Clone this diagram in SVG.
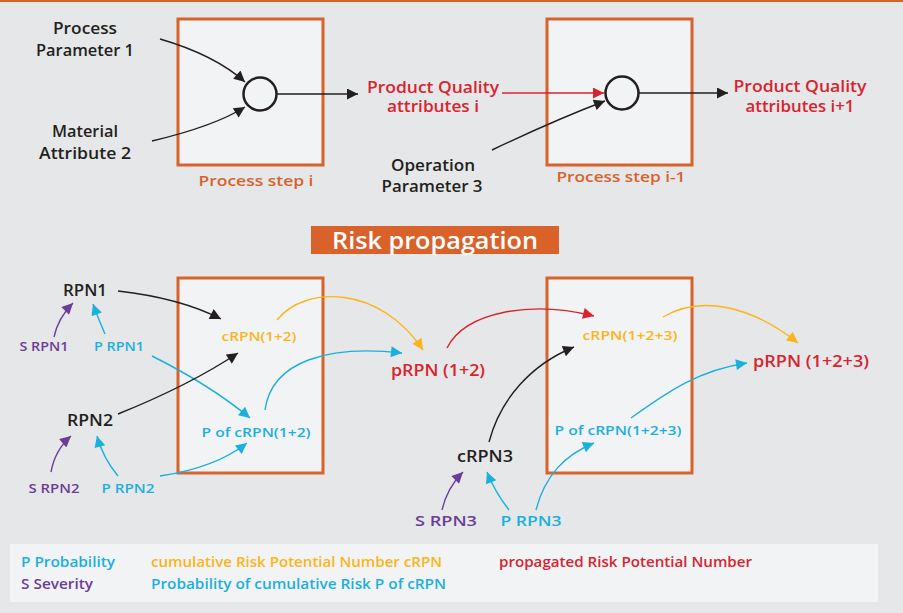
<svg xmlns="http://www.w3.org/2000/svg" width="903" height="613" viewBox="0 0 903 613">
  <style>
    text { font-family: "Open Sans", "Liberation Sans", sans-serif; font-weight: 600; }
    .dk { fill: #231f20; }
    .rd { fill: #d7242f; }
    .or { fill: #d9622b; }
    .yl { fill: #fbb518; }
    .cy { fill: #1bb0dc; }
    .pu { fill: #6c3d97; }
    .mid { text-anchor: middle; }
    .step { fill: #f2f3f5; stroke: #d9622b; stroke-width: 3; }
    .node { fill: none; stroke: #231f20; stroke-width: 2.5; }
    .c { fill: none; stroke-width: 1.4; }
    .k { stroke: #231f20; marker-end: url(#ak); }
    .r { stroke: #d7242f; marker-end: url(#ar); }
    .y { stroke: #fbb518; marker-end: url(#ay); }
    .b { stroke: #1bb0dc; marker-end: url(#ab); }
    .p { stroke: #6c3d97; marker-end: url(#ap); }
  </style>
  <defs>
    <marker id="ak" viewBox="0 0 10 10" refX="10" refY="5" markerWidth="15" markerHeight="11" markerUnits="userSpaceOnUse" orient="auto"><path d="M0,0 L10,5 L0,10 z" fill="#231f20"/></marker>
    <marker id="ar" viewBox="0 0 10 10" refX="10" refY="5" markerWidth="15" markerHeight="11" markerUnits="userSpaceOnUse" orient="auto"><path d="M0,0 L10,5 L0,10 z" fill="#d7242f"/></marker>
    <marker id="ay" viewBox="0 0 10 10" refX="10" refY="5" markerWidth="15" markerHeight="11" markerUnits="userSpaceOnUse" orient="auto"><path d="M0,0 L10,5 L0,10 z" fill="#fbb518"/></marker>
    <marker id="ab" viewBox="0 0 10 10" refX="10" refY="5" markerWidth="15" markerHeight="11" markerUnits="userSpaceOnUse" orient="auto"><path d="M0,0 L10,5 L0,10 z" fill="#1bb0dc"/></marker>
    <marker id="ap" viewBox="0 0 10 10" refX="10" refY="5" markerWidth="15" markerHeight="11" markerUnits="userSpaceOnUse" orient="auto"><path d="M0,0 L10,5 L0,10 z" fill="#6c3d97"/></marker>
  </defs>

  <!-- page -->
  <rect x="0" y="0" width="903" height="613" fill="#e6e7e8"/>
  <rect x="0" y="0" width="903" height="2" fill="#d9622b"/>

  <!-- process flow -->
  <g id="step-i">
    <rect class="step" x="178" y="19" width="145" height="146"/>
    <circle class="node" cx="260" cy="94" r="16.5"/>
    <text class="or mid" x="256" y="186" font-size="15" textLength="115" lengthAdjust="spacingAndGlyphs">Process step i</text>
  </g>
  <g id="step-i-1">
    <rect class="step" x="547" y="19" width="145" height="146"/>
    <circle class="node" cx="622" cy="93" r="16.5"/>
    <text class="or mid" x="621" y="182" font-size="15" textLength="129" lengthAdjust="spacingAndGlyphs">Process step i-1</text>
  </g>
  <g id="process-parameter-1">
    <text class="dk mid" x="85" y="34" font-size="15.5" textLength="64" lengthAdjust="spacingAndGlyphs">Process</text>
    <text class="dk mid" x="85" y="56" font-size="15.5" textLength="98" lengthAdjust="spacingAndGlyphs">Parameter 1</text>
  </g>
  <g id="material-attribute-2">
    <text class="dk mid" x="85" y="137" font-size="15.5" textLength="66" lengthAdjust="spacingAndGlyphs">Material</text>
    <text class="dk mid" x="85" y="159" font-size="15.5" textLength="92" lengthAdjust="spacingAndGlyphs">Attribute 2</text>
  </g>
  <g id="quality-i">
    <text class="rd mid" x="433" y="93" font-size="15.5" textLength="132" lengthAdjust="spacingAndGlyphs">Product Quality</text>
    <text class="rd mid" x="433" y="112" font-size="15.5" textLength="92" lengthAdjust="spacingAndGlyphs">attributes i</text>
  </g>
  <g id="operation-parameter-3">
    <text class="dk mid" x="433" y="171" font-size="15.5" textLength="84" lengthAdjust="spacingAndGlyphs">Operation</text>
    <text class="dk mid" x="432" y="192" font-size="15.5" textLength="101" lengthAdjust="spacingAndGlyphs">Parameter 3</text>
  </g>
  <g id="quality-i-1">
    <text class="rd mid" x="800" y="92" font-size="15.5" textLength="133" lengthAdjust="spacingAndGlyphs">Product Quality</text>
    <text class="rd mid" x="800" y="112" font-size="15.5" textLength="109" lengthAdjust="spacingAndGlyphs">attributes i+1</text>
  </g>

  <!-- banner -->
  <g id="risk-propagation">
    <rect x="311" y="226" width="248" height="28" fill="#d9622b"/>
    <text x="435" y="248.5" font-size="22.5" fill="#ffffff" text-anchor="middle" textLength="206" lengthAdjust="spacingAndGlyphs">Risk propagation</text>
  </g>

  <!-- risk steps -->
  <g id="risk-step-1">
    <rect class="step" x="178" y="278" width="145" height="195"/>
  </g>
  <g id="risk-step-2">
    <rect class="step" x="547" y="278" width="145" height="195"/>
  </g>

  <g id="rpn1"><text class="dk mid" x="85" y="296" font-size="16" textLength="44" lengthAdjust="spacingAndGlyphs">RPN1</text></g>
  <g id="s-rpn1"><text class="pu mid" x="44" y="351" font-size="12.5" textLength="49" lengthAdjust="spacingAndGlyphs">S RPN1</text></g>
  <g id="p-rpn1"><text class="cy mid" x="119" y="351" font-size="12.5" textLength="50" lengthAdjust="spacingAndGlyphs">P RPN1</text></g>
  <g id="rpn2"><text class="dk mid" x="90" y="426" font-size="16" textLength="46" lengthAdjust="spacingAndGlyphs">RPN2</text></g>
  <g id="s-rpn2"><text class="pu mid" x="54" y="493" font-size="12.5" textLength="51" lengthAdjust="spacingAndGlyphs">S RPN2</text></g>
  <g id="p-rpn2"><text class="cy mid" x="128" y="493" font-size="12.5" textLength="53" lengthAdjust="spacingAndGlyphs">P RPN2</text></g>
  <g id="crpn-1-2"><text class="yl mid" x="259" y="341" font-size="13" textLength="75" lengthAdjust="spacingAndGlyphs">cRPN(1+2)</text></g>
  <g id="p-crpn-1-2"><text class="cy mid" x="256" y="437" font-size="13" textLength="109" lengthAdjust="spacingAndGlyphs">P of cRPN(1+2)</text></g>
  <g id="prpn-1-2"><text class="rd mid" x="438" y="376" font-size="15.5" textLength="94" lengthAdjust="spacingAndGlyphs">pRPN (1+2)</text></g>
  <g id="crpn-1-2-3"><text class="yl mid" x="630" y="340" font-size="13" textLength="95" lengthAdjust="spacingAndGlyphs">cRPN(1+2+3)</text></g>
  <g id="p-crpn-1-2-3"><text class="cy mid" x="618" y="435" font-size="13" textLength="127" lengthAdjust="spacingAndGlyphs">P of cRPN(1+2+3)</text></g>
  <g id="prpn-1-2-3"><text class="rd mid" x="811" y="367" font-size="15.5" textLength="116" lengthAdjust="spacingAndGlyphs">pRPN (1+2+3)</text></g>
  <g id="crpn3"><text class="dk mid" x="485" y="462" font-size="16" textLength="56" lengthAdjust="spacingAndGlyphs">cRPN3</text></g>
  <g id="s-rpn3"><text class="pu mid" x="446" y="526" font-size="15" textLength="62" lengthAdjust="spacingAndGlyphs">S RPN3</text></g>
  <g id="p-rpn3"><text class="cy mid" x="531" y="526" font-size="15" textLength="61" lengthAdjust="spacingAndGlyphs">P RPN3</text></g>

  <!-- connectors -->
  <g id="connectors">
    <path class="c k" d="M160,39 Q215,55 245,82"/>
    <path class="c k" d="M152,141 Q215,126 245,107"/>
    <path class="c k" d="M277,94 L358,94"/>
    <path class="c r" d="M502,93 L604,93"/>
    <path class="c k" d="M492,150 Q555,120 605,101"/>
    <path class="c k" d="M639,93 L728,93"/>

    <path class="c k" d="M118,291 Q180,298 221,319"/>
    <path class="c p" d="M54,337 Q58,318 73,303"/>
    <path class="c b" d="M105,334 Q98,318 93,304"/>
    <path class="c b" d="M152,356 Q210,385 250,418"/>
    <path class="c k" d="M118,414 Q190,385 238,353"/>
    <path class="c y" d="M277,320 C305,285 380,285 423,350"/>
    <path class="c b" d="M265,410 C272,360 330,345 402,353"/>
    <path class="c p" d="M51,472 Q55,450 71,436"/>
    <path class="c b" d="M118,476 Q103,458 97,436"/>
    <path class="c b" d="M160,476 Q215,468 247,443"/>
    <path class="c r" d="M447,348 C465,312 530,300 594,316"/>
    <path class="c k" d="M489,442 C500,400 530,365 574,347"/>
    <path class="c y" d="M663,317 C700,295 750,305 798,343"/>
    <path class="c b" d="M631,418 C670,390 700,370 747,363"/>
    <path class="c p" d="M442,510 Q447,488 463,472"/>
    <path class="c b" d="M509,510 Q495,492 487,472"/>
    <path class="c b" d="M536,510 C545,475 565,455 594,443"/>
  </g>

  <!-- legend -->
  <g id="legend">
    <rect x="10" y="544" width="868" height="58" fill="#f2f3f5"/>
    <text class="cy" x="21" y="567" font-size="14" textLength="94" lengthAdjust="spacingAndGlyphs">P Probability</text>
    <text class="yl" x="151" y="567" font-size="14" textLength="291" lengthAdjust="spacingAndGlyphs">cumulative Risk Potential Number cRPN</text>
    <text class="rd" x="499" y="567" font-size="14" textLength="253" lengthAdjust="spacingAndGlyphs">propagated Risk Potential Number</text>
    <text class="pu" x="21" y="589" font-size="14" textLength="72" lengthAdjust="spacingAndGlyphs">S Severity</text>
    <text class="cy" x="151" y="589" font-size="14" textLength="295" lengthAdjust="spacingAndGlyphs">Probability of cumulative Risk P of cRPN</text>
  </g>
</svg>
